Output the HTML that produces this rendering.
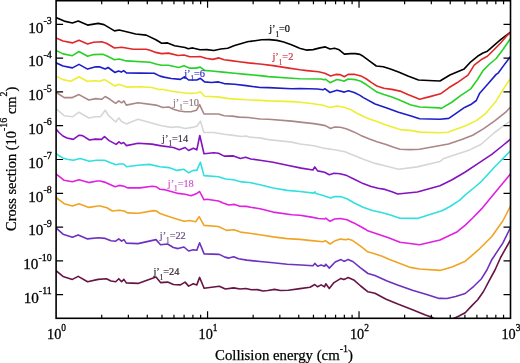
<!DOCTYPE html>
<html><head><meta charset="utf-8"><style>
html,body{margin:0;padding:0;background:#fff;}
body{width:520px;height:363px;overflow:hidden;}
svg{display:block;will-change:transform;}
text{font-family:"Liberation Serif",serif;fill:#000;}
.tl{font-size:15.2px;stroke:#000;stroke-width:0.3px;}
.sup{font-size:10px;}
.cl{font-size:11px;}
.sub{font-size:7.5px;}
.at{font-size:14.8px;stroke:#000;stroke-width:0.25px;}
.at2{font-size:14.4px;stroke:#000;stroke-width:0.25px;}
.sup2{font-size:10px;}
</style></head><body>
<svg width="520" height="363" viewBox="0 0 520 363">
<defs><clipPath id="cp"><rect x="56.10" y="0.70" width="454.40" height="317.60"/></clipPath></defs>
<g clip-path="url(#cp)" fill="none" stroke-width="1.6" stroke-linejoin="round" stroke-linecap="round">
<polyline stroke="#000000" points="56.0,17.6 64.2,21.1 72.4,23.0 78.2,21.1 87.6,25.1 98.2,23.4 104.0,24.6 114.5,30.9 119.2,30.0 128.6,32.3 135.6,34.0 146.2,35.1 155.9,39.8 161.7,43.3 167.6,42.9 174.6,45.7 185.1,47.5 188.1,48.7 192.7,47.9 200.0,49.8 206.9,49.6 213.8,50.5 220.8,49.0 227.7,48.2 234.6,45.6 241.5,43.6 248.4,41.5 250.0,41.4 255.0,40.7 261.6,39.8 269.3,39.6 277.0,40.4 283.7,42.0 291.4,44.8 299.1,48.1 300.4,48.5 306.2,50.1 313.1,49.6 320.0,47.9 325.4,46.9 330.0,49.0 334.6,48.3 339.2,49.8 344.4,54.1 350.7,53.6 355.4,53.6 360.0,54.4 362.2,55.7 369.3,60.9 376.3,66.0 383.3,66.7 390.4,69.1 398.5,72.1 407.9,76.1 418.5,80.0 433.7,80.8 440.0,81.0 449.9,75.0 457.6,71.7 464.2,68.9 470.8,61.8 477.5,56.3 483.0,53.0 487.4,51.2 494.0,45.3 500.6,39.7 506.2,35.3 510.5,32.2"/>
<polyline stroke="#e02828" points="56.0,37.9 63.0,41.0 72.4,42.9 79.0,40.3 87.6,44.0 93.5,42.2 101.7,41.7 106.4,43.3 114.5,48.0 121.6,47.3 133.3,49.2 146.2,49.2 150.0,50.2 154.6,52.1 161.5,53.6 168.5,53.1 178.1,55.5 184.0,55.0 189.8,56.7 196.8,56.7 200.0,56.5 205.8,58.3 212.7,59.4 219.0,57.9 224.2,59.8 231.1,60.6 239.2,61.7 248.4,62.9 260.0,64.0 273.1,65.6 287.2,67.9 300.0,69.8 306.9,70.6 318.5,71.7 324.8,73.2 330.6,76.0 335.8,74.4 339.8,74.6 344.4,76.7 348.1,74.4 355.0,74.4 360.8,75.9 366.5,79.0 372.3,83.1 376.9,86.0 383.8,88.3 391.9,89.4 400.0,91.1 407.9,94.6 419.6,99.3 429.0,96.9 440.5,93.8 448.8,87.8 457.0,82.8 468.0,75.2 474.2,65.1 481.9,59.2 487.4,56.3 494.0,49.7 500.6,43.0 506.2,36.4 510.5,32.6"/>
<polyline stroke="#28d028" points="56.0,50.4 63.0,53.9 72.4,55.7 79.0,51.5 87.6,56.2 93.5,54.6 102.8,54.3 107.5,56.2 114.5,59.7 119.2,59.0 126.3,60.9 150.0,62.3 155.8,64.0 161.5,65.2 168.5,65.2 178.8,67.5 184.0,65.8 189.2,68.1 196.1,68.1 200.2,67.1 204.6,70.4 211.5,71.0 223.1,72.1 234.6,73.3 246.1,74.4 260.0,75.6 268.4,76.6 291.8,78.2 300.0,78.7 320.8,79.0 324.2,79.8 325.4,79.2 330.0,82.7 336.9,79.5 342.0,80.5 344.0,81.3 348.1,79.0 355.0,79.6 360.8,81.3 366.5,84.8 372.3,88.8 376.9,92.1 383.8,94.6 391.9,96.9 397.7,99.2 410.3,104.7 419.6,107.0 440.0,107.9 441.0,108.6 452.1,102.0 460.9,95.4 470.8,88.8 477.5,79.5 483.0,70.6 489.6,64.0 496.2,58.5 502.8,49.7 510.5,38.5"/>
<polyline stroke="#1e1ec8" points="56.0,62.8 63.0,66.0 72.4,67.9 79.0,64.4 87.6,69.1 95.8,66.7 100.0,66.9 105.2,69.0 108.1,67.5 115.0,72.5 118.5,71.0 121.3,72.1 123.6,70.6 126.5,72.9 140.0,73.1 154.2,73.3 160.0,76.1 164.0,77.1 171.1,78.5 180.4,79.4 184.7,76.8 188.6,80.0 196.8,80.0 200.4,78.3 204.6,81.9 211.5,82.5 218.5,81.9 224.2,83.6 234.6,84.2 246.1,85.6 260.0,87.5 268.4,87.6 291.8,88.7 300.0,88.5 317.3,89.0 323.1,89.8 324.8,88.7 330.0,92.5 336.9,90.2 344.4,92.1 348.4,90.8 354.2,92.5 360.0,95.4 363.4,97.6 375.1,104.0 386.8,107.9 398.5,112.2 410.3,115.7 419.6,118.7 440.0,119.2 448.8,118.4 455.7,113.6 464.6,107.4 470.8,104.6 476.3,100.5 479.7,93.2 488.5,83.2 496.2,74.4 498.4,72.8 504.0,65.1 510.5,56.5"/>
<polyline stroke="#eeee30" points="56.0,76.1 62.9,79.6 71.0,81.3 79.1,76.7 87.1,81.3 95.2,80.7 99.8,81.3 104.6,79.6 115.0,86.0 119.0,84.2 126.5,87.1 140.4,86.8 151.9,87.5 160.0,89.8 161.7,89.2 173.4,91.5 185.1,93.0 191.0,93.4 196.8,93.0 200.4,91.8 204.6,96.3 217.3,96.9 228.8,98.6 246.1,99.8 260.0,100.4 268.4,100.9 291.8,101.6 300.0,102.3 311.5,103.5 323.1,105.2 330.0,107.5 336.9,106.0 340.0,106.5 344.6,107.5 350.4,109.4 357.3,113.5 363.1,116.3 370.0,119.2 376.9,121.5 386.1,125.0 393.0,127.3 400.0,129.6 410.3,130.4 419.6,132.1 440.0,132.8 447.7,132.3 460.9,127.6 466.7,125.3 476.3,120.6 485.0,114.2 496.2,100.9 502.8,89.9 510.5,78.5"/>
<polyline stroke="#aa8686" points="56.0,92.2 64.2,97.6 72.4,97.6 79.0,94.6 88.8,100.0 95.8,98.6 101.7,99.3 105.2,96.5 109.9,99.3 115.7,103.3 118.8,100.9 121.6,102.8 123.9,100.9 126.3,105.1 138.0,102.8 156.0,105.1 162.9,107.5 168.7,107.0 173.4,109.3 179.3,111.0 185.1,111.7 191.0,111.7 196.4,110.3 199.6,104.7 204.0,114.0 218.5,114.0 224.2,115.8 232.3,116.1 239.2,117.1 248.4,117.5 260.0,119.0 268.4,119.2 291.8,121.1 300.0,122.1 313.8,123.6 318.5,124.4 325.4,125.6 330.6,128.5 334.6,127.1 340.4,127.3 346.9,129.0 353.8,131.9 360.8,135.4 368.8,138.8 376.9,141.7 386.1,144.6 393.0,147.1 400.0,149.2 410.3,149.6 419.6,149.2 448.5,144.0 461.7,139.6 472.7,135.2 483.7,128.6 494.7,120.9 505.7,112.1 510.5,107.2"/>
<polyline stroke="#d6d6d6" points="56.0,108.6 64.2,115.7 72.4,116.8 79.0,112.2 88.8,118.0 95.8,116.8 100.5,116.8 105.2,110.3 108.7,115.7 115.7,122.0 118.8,118.0 121.6,121.5 126.3,123.9 138.0,119.2 156.0,124.3 161.7,125.7 171.1,127.4 178.1,126.7 185.1,128.5 192.2,127.4 196.8,126.2 200.4,121.1 203.9,132.5 213.8,132.5 224.2,134.2 233.5,135.4 241.5,136.5 246.1,136.0 249.6,137.1 260.0,137.9 268.4,139.6 291.8,142.1 300.0,144.0 313.8,145.7 323.1,148.1 334.6,149.8 345.0,151.8 351.7,154.5 363.4,159.2 375.1,163.4 386.8,166.2 398.5,169.3 417.3,166.9 440.0,161.5 443.2,158.8 456.5,154.3 469.7,149.9 480.8,144.5 494.0,133.0 502.8,126.3 510.5,121.0"/>
<polyline stroke="#8412c0" points="56.0,129.0 59.0,132.5 62.9,136.0 67.0,138.0 73.3,139.4 79.1,135.2 82.5,135.6 89.5,140.0 95.2,139.1 101.6,139.4 104.5,136.5 109.1,140.6 116.1,144.4 119.0,141.8 121.3,143.6 123.6,142.5 126.5,145.6 138.1,143.3 151.9,144.1 160.0,145.6 161.7,145.9 173.4,147.5 179.3,149.8 185.1,147.5 188.6,150.5 193.3,148.2 196.8,149.8 199.8,135.5 204.0,153.8 213.8,152.7 218.5,153.3 224.2,156.1 233.5,155.9 240.4,158.5 245.6,157.3 250.8,159.0 260.0,160.2 273.1,162.2 287.2,165.3 301.2,168.1 312.9,170.0 314.8,166.9 317.6,170.9 324.6,172.3 329.3,174.7 334.0,173.3 340.0,173.8 346.9,175.6 353.8,179.0 363.1,183.6 371.1,186.5 378.1,188.3 385.0,189.4 391.9,191.7 397.7,194.0 417.3,192.0 440.0,185.7 452.1,179.7 465.3,172.0 478.6,163.2 491.8,154.3 502.8,145.5 510.5,139.2"/>
<polyline stroke="#30e0e0" points="56.0,153.3 59.0,155.8 62.9,157.9 67.0,159.2 73.3,160.2 80.2,158.4 89.5,161.3 96.4,160.2 104.5,160.2 110.0,162.5 116.0,164.8 119.0,164.0 123.6,164.0 126.5,166.7 138.1,165.2 149.6,164.4 160.0,166.7 168.7,167.6 176.9,170.4 184.0,169.3 188.6,172.8 193.3,170.4 196.8,170.4 200.4,162.2 204.0,175.6 218.5,176.7 225.4,179.0 233.5,179.8 241.5,181.9 249.6,182.5 260.0,184.8 273.1,188.0 287.2,190.4 300.0,191.5 313.8,193.1 315.0,191.9 316.1,193.6 323.1,195.4 330.6,197.9 334.6,196.5 340.4,196.6 346.9,198.7 353.8,202.7 363.1,207.3 372.3,210.5 381.5,212.5 389.6,214.8 400.0,218.3 417.3,218.4 441.9,210.7 450.0,206.5 459.5,200.3 465.0,195.1 474.9,187.0 481.5,181.3 495.3,166.2 509.0,152.4 510.5,150.8"/>
<polyline stroke="#e020e0" points="56.0,174.0 64.2,180.3 72.4,181.7 79.0,179.8 88.8,182.6 97.0,181.0 100.0,181.0 105.5,182.4 115.1,186.8 119.3,185.4 124.1,186.2 127.5,187.9 139.9,187.9 152.3,186.2 156.4,186.8 160.0,189.3 164.0,189.6 171.1,191.5 178.1,193.4 185.1,194.3 191.0,195.7 196.8,193.4 199.6,191.5 204.0,199.8 206.9,199.2 218.5,201.0 223.1,202.9 228.8,205.0 234.6,204.4 239.2,206.1 246.1,206.4 250.8,207.3 260.0,208.7 273.1,212.1 291.8,214.7 300.0,215.2 311.5,217.1 318.5,218.5 324.8,219.0 325.6,218.2 330.0,221.3 334.6,219.0 340.4,218.5 346.9,219.8 353.8,222.9 360.0,226.2 365.4,229.2 367.7,230.8 378.1,234.2 388.5,237.7 400.0,242.3 419.6,244.7 440.0,240.0 452.1,234.3 457.3,231.7 465.0,225.4 472.7,218.0 481.5,208.9 495.3,192.3 509.0,175.8 510.5,174.0"/>
<polyline stroke="#f0a424" points="56.0,197.4 64.2,203.7 72.4,206.0 79.0,203.7 88.8,207.4 98.2,206.0 100.0,206.0 106.9,207.8 112.4,211.0 119.3,210.2 124.1,211.0 127.5,212.9 138.5,213.3 153.6,210.6 156.5,211.0 160.0,213.6 168.7,216.6 178.1,219.4 184.0,221.2 189.8,220.5 195.7,221.7 199.2,216.6 204.0,225.4 218.5,226.5 226.5,230.4 234.0,229.8 240.4,232.1 249.6,233.2 260.0,234.8 273.1,236.9 287.2,238.6 300.0,239.4 311.5,240.6 323.1,241.7 325.4,240.6 330.0,244.0 334.6,241.1 340.4,239.1 346.1,239.8 348.1,239.1 352.7,240.6 358.5,244.6 363.1,248.1 367.7,251.8 374.6,253.8 381.5,256.1 389.6,259.6 400.0,263.6 410.3,267.4 419.6,269.0 440.0,270.4 452.1,267.0 465.3,261.2 478.6,249.7 491.8,236.5 502.8,221.0 510.5,206.0"/>
<polyline stroke="#6e30c0" points="56.0,227.9 63.0,234.2 72.4,237.2 78.2,234.9 87.6,238.9 98.2,237.7 105.2,238.4 111.0,240.8 115.7,241.2 118.8,238.9 121.6,241.2 123.9,239.6 126.3,243.1 138.0,243.6 156.0,239.6 160.5,244.7 167.6,244.0 173.4,247.5 178.1,248.6 184.0,247.0 188.6,251.0 193.3,249.8 196.8,250.3 199.6,242.8 204.1,253.9 219.3,254.4 224.8,257.1 228.9,258.1 233.7,256.7 238.5,258.8 246.8,260.1 260.0,261.5 273.1,262.7 287.2,264.3 301.2,265.0 312.9,265.7 314.8,263.4 317.6,266.2 321.1,265.0 324.6,266.2 325.8,264.3 329.3,268.1 335.2,262.0 341.0,259.6 343.7,261.1 345.0,261.1 348.0,259.4 352.8,261.5 360.2,267.7 368.0,273.5 374.9,275.6 386.5,280.8 398.2,285.2 413.2,290.6 426.7,294.5 439.2,298.5 440.0,298.4 446.9,298.5 455.6,296.5 465.2,293.5 473.8,286.3 481.5,278.7 486.9,270.0 491.8,259.7 502.8,243.1 510.5,227.5"/>
<polyline stroke="#661444" points="56.0,270.7 63.0,276.4 72.4,279.4 78.2,276.4 87.6,281.7 98.2,279.4 106.4,278.7 111.0,281.0 115.7,281.7 118.8,278.7 121.6,281.7 123.9,279.4 126.3,282.9 138.0,283.4 156.0,277.1 160.5,282.6 167.6,282.1 173.4,284.5 180.4,284.9 185.1,282.1 188.6,286.1 193.3,283.8 196.8,284.9 199.6,277.4 204.1,288.3 219.3,286.3 225.4,289.0 233.7,287.9 240.0,289.0 245.8,288.5 251.5,289.8 257.3,289.6 263.1,291.0 267.7,290.5 274.6,289.4 280.4,290.5 288.4,290.2 300.0,288.6 310.0,287.2 314.8,284.5 317.6,286.8 321.1,284.9 324.6,286.8 325.8,283.8 329.3,288.5 334.0,282.6 341.0,278.4 343.7,279.4 345.0,279.1 348.1,277.5 354.3,280.3 360.7,286.0 368.0,291.8 374.9,293.3 386.2,299.3 397.8,304.1 413.2,309.9 424.8,314.7 432.5,317.6 435.4,319.5 451.7,319.5 458.5,316.2 465.2,312.7 471.9,305.6 477.7,299.8 483.5,291.5 489.2,280.6 495.0,270.0 500.6,257.5 510.5,240.0"/>
</g>
<path d="M56.10 24.30h7M510.50 24.30h-7M56.10 58.10h7M510.50 58.10h-7M56.10 91.90h7M510.50 91.90h-7M56.10 125.70h7M510.50 125.70h-7M56.10 159.50h7M510.50 159.50h-7M56.10 193.30h7M510.50 193.30h-7M56.10 227.10h7M510.50 227.10h-7M56.10 260.90h7M510.50 260.90h-7M56.10 294.70h7M510.50 294.70h-7M101.70 318.30v-3.5M101.70 0.70v3.5M128.37 318.30v-3.5M128.37 0.70v3.5M147.29 318.30v-3.5M147.29 0.70v3.5M161.97 318.30v-3.5M161.97 0.70v3.5M173.96 318.30v-3.5M173.96 0.70v3.5M184.10 318.30v-3.5M184.10 0.70v3.5M192.89 318.30v-3.5M192.89 0.70v3.5M200.64 318.30v-3.5M200.64 0.70v3.5M207.57 318.30v-7.0M207.57 0.70v7.0M253.16 318.30v-3.5M253.16 0.70v3.5M279.83 318.30v-3.5M279.83 0.70v3.5M298.76 318.30v-3.5M298.76 0.70v3.5M313.44 318.30v-3.5M313.44 0.70v3.5M325.43 318.30v-3.5M325.43 0.70v3.5M335.57 318.30v-3.5M335.57 0.70v3.5M344.35 318.30v-3.5M344.35 0.70v3.5M352.10 318.30v-3.5M352.10 0.70v3.5M359.03 318.30v-7.0M359.03 0.70v7.0M404.63 318.30v-3.5M404.63 0.70v3.5M431.30 318.30v-3.5M431.30 0.70v3.5M450.23 318.30v-3.5M450.23 0.70v3.5M464.90 318.30v-3.5M464.90 0.70v3.5M476.90 318.30v-3.5M476.90 0.70v3.5M487.04 318.30v-3.5M487.04 0.70v3.5M495.82 318.30v-3.5M495.82 0.70v3.5M503.57 318.30v-3.5M503.57 0.70v3.5" stroke="#000" stroke-width="1.2" fill="none"/>
<rect x="56.10" y="0.70" width="454.40" height="317.60" fill="none" stroke="#000" stroke-width="1.6"/>
<text transform="translate(51.8,32.5)" text-anchor="end" class="tl">10<tspan class="sup" dy="-8.6">-3</tspan></text>
<text transform="translate(51.8,66.3)" text-anchor="end" class="tl">10<tspan class="sup" dy="-8.6">-4</tspan></text>
<text transform="translate(51.8,100.1)" text-anchor="end" class="tl">10<tspan class="sup" dy="-8.6">-5</tspan></text>
<text transform="translate(51.8,133.9)" text-anchor="end" class="tl">10<tspan class="sup" dy="-8.6">-6</tspan></text>
<text transform="translate(51.8,167.7)" text-anchor="end" class="tl">10<tspan class="sup" dy="-8.6">-7</tspan></text>
<text transform="translate(51.8,201.5)" text-anchor="end" class="tl">10<tspan class="sup" dy="-8.6">-8</tspan></text>
<text transform="translate(51.8,235.3)" text-anchor="end" class="tl">10<tspan class="sup" dy="-8.6">-9</tspan></text>
<text transform="translate(51.8,269.1)" text-anchor="end" class="tl">10<tspan class="sup" dy="-8.6">-10</tspan></text>
<text transform="translate(51.8,302.9)" text-anchor="end" class="tl">10<tspan class="sup" dy="-8.6">-11</tspan></text>
<text transform="translate(56.5,339.4) scale(0.94,1)" text-anchor="middle" class="tl">10<tspan class="sup" dy="-8.6">0</tspan></text>
<text transform="translate(208.0,339.4) scale(0.94,1)" text-anchor="middle" class="tl">10<tspan class="sup" dy="-8.6">1</tspan></text>
<text transform="translate(359.4,339.4) scale(0.94,1)" text-anchor="middle" class="tl">10<tspan class="sup" dy="-8.6">2</tspan></text>
<text transform="translate(510.9,339.4) scale(0.94,1)" text-anchor="middle" class="tl">10<tspan class="sup" dy="-8.6">3</tspan></text>
<text transform="translate(269.2,32.4) scale(0.94,1)" x="0" y="0" class="cl" style="fill:#000;stroke:#000;stroke-width:0.2px">j’<tspan class="sub" dy="4.3">1</tspan><tspan dy="-4.3">=0</tspan></text>
<text transform="translate(272.5,60.2) scale(0.94,1)" x="0" y="0" class="cl" style="fill:#d03040;stroke:#d03040;stroke-width:0.2px">j’<tspan class="sub" dy="4.3">1</tspan><tspan dy="-4.3">=2</tspan></text>
<text transform="translate(184.2,77.0) scale(0.94,1)" x="0" y="0" class="cl" style="fill:#3030c8;stroke:#3030c8;stroke-width:0.2px">j’<tspan class="sub" dy="4.3">1</tspan><tspan dy="-4.3">=6</tspan></text>
<text transform="translate(173.0,106.1) scale(0.94,1)" x="0" y="0" class="cl" style="fill:#8c7880;stroke:#8c7880;stroke-width:0.2px">j’<tspan class="sub" dy="4.3">1</tspan><tspan dy="-4.3">=10</tspan></text>
<text transform="translate(162.1,142.0) scale(0.94,1)" x="0" y="0" class="cl" style="fill:#403040;stroke:#403040;stroke-width:0.2px">j’<tspan class="sub" dy="4.3">1</tspan><tspan dy="-4.3">=14</tspan></text>
<text transform="translate(167.8,186.8) scale(0.94,1)" x="0" y="0" class="cl" style="fill:#d050d0;stroke:#d050d0;stroke-width:0.2px">j’<tspan class="sub" dy="4.3">1</tspan><tspan dy="-4.3">=18</tspan></text>
<text transform="translate(159.8,238.9) scale(0.94,1)" x="0" y="0" class="cl" style="fill:#665088;stroke:#665088;stroke-width:0.2px">j’<tspan class="sub" dy="4.3">1</tspan><tspan dy="-4.3">=22</tspan></text>
<text transform="translate(153.4,275.4) scale(0.94,1)" x="0" y="0" class="cl" style="fill:#302028;stroke:#302028;stroke-width:0.2px">j’<tspan class="sub" dy="4.3">1</tspan><tspan dy="-4.3">=24</tspan></text>
<text x="284" y="360" text-anchor="middle" class="at">Collision energy (cm<tspan class="sup2" dy="-8.5">-1</tspan><tspan dy="8.5">)</tspan></text>
<text transform="translate(15.8,158.8) rotate(-90)" text-anchor="middle" class="at2">Cross section (10<tspan class="sup2" dy="-8.5">-16</tspan><tspan dy="8.5"> cm</tspan><tspan class="sup2" dy="-8.5">2</tspan><tspan dy="8.5">)</tspan></text>
</svg>
</body></html>
